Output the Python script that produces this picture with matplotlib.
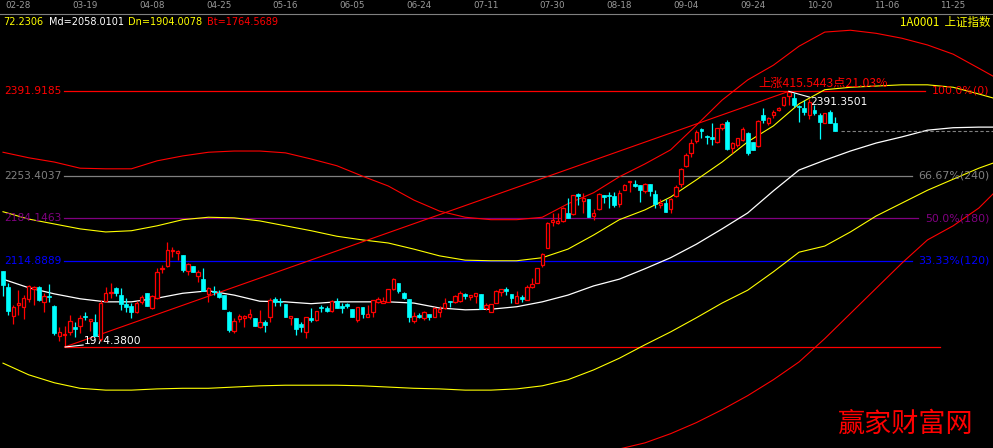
import matplotlib
matplotlib.use("Agg")
import matplotlib.pyplot as plt
from matplotlib.patches import Rectangle
from matplotlib.transforms import blended_transform_factory

# ---- candle data (daily OHLC, index 0 = first bar) ----
opens = [2098, 2072, 2025, 2043, 2040, 2053, 2069, 2072, 2048, 2058,
         2041, 1992, 1994, 1999, 2007, 2009, 2025, 2017, 2015, 1987,
         2049, 2062, 2071, 2059, 2044, 2041, 2031, 2048, 2062, 2038,
         2054, 2102, 2107, 2131, 2128, 2124, 2098, 2107, 2090, 2085,
         2061, 2066, 2063, 2059, 2031, 2000, 2020, 2022, 2023, 2022,
         2007, 2015, 2023, 2053, 2049, 2045, 2022, 2022, 2012, 1999,
         2022, 2018, 2040, 2038, 2033, 2049, 2041, 2045, 2036, 2018,
         2040, 2023, 2031, 2048, 2046, 2048, 2069, 2079, 2062, 2053,
         2017, 2027, 2022, 2028, 2023, 2031, 2038, 2049, 2048, 2049,
         2061, 2056, 2058, 2061, 2038, 2031, 2046, 2064, 2069, 2061,
         2046, 2056, 2051, 2072, 2079, 2108, 2136, 2178, 2177, 2180,
         2193, 2191, 2224, 2213, 2216, 2188, 2199, 2222, 2222, 2221,
         2208, 2230, 2244, 2240, 2239, 2229, 2240, 2224, 2206, 2209,
         2199, 2221, 2240, 2270, 2291, 2310, 2330, 2319, 2317, 2309,
         2332, 2341, 2299, 2304, 2312, 2323, 2309, 2302, 2353, 2340,
         2353, 2361, 2369, 2384, 2381, 2368, 2364, 2353, 2361, 2353,
         2340, 2357, 2340]
closes = [2076, 2033, 2040, 2046, 2054, 2074, 2072, 2051, 2058, 2056,
          1997, 1999, 1996, 2017, 2004, 2022, 2023, 2020, 1992, 2046,
          2062, 2064, 2062, 2044, 2040, 2031, 2046, 2056, 2041, 2058,
          2097, 2103, 2133, 2133, 2131, 2100, 2110, 2097, 2097, 2066,
          2071, 2064, 2056, 2036, 2002, 2017, 2025, 2025, 2028, 2009,
          2015, 2010, 2051, 2048, 2048, 2023, 2025, 2004, 2007, 2023,
          2018, 2033, 2038, 2033, 2049, 2038, 2038, 2041, 2023, 2040,
          2028, 2028, 2051, 2053, 2049, 2069, 2085, 2066, 2054, 2023,
          2025, 2023, 2031, 2023, 2038, 2036, 2046, 2048, 2058, 2062,
          2058, 2059, 2062, 2036, 2043, 2045, 2066, 2069, 2066, 2054,
          2058, 2053, 2072, 2077, 2103, 2126, 2177, 2182, 2180, 2201,
          2185, 2222, 2221, 2217, 2186, 2193, 2224, 2219, 2221, 2206,
          2226, 2239, 2245, 2237, 2230, 2240, 2229, 2208, 2209, 2195,
          2216, 2235, 2265, 2288, 2307, 2325, 2327, 2317, 2314, 2332,
          2338, 2297, 2307, 2315, 2330, 2291, 2296, 2343, 2345, 2348,
          2358, 2364, 2382, 2390, 2369, 2366, 2358, 2374, 2356, 2341,
          2356, 2340, 2327]
highs = [2098, 2079, 2043, 2067, 2059, 2076, 2074, 2074, 2062, 2077,
         2043, 2007, 2009, 2027, 2015, 2027, 2031, 2020, 2028, 2051,
         2072, 2079, 2072, 2071, 2054, 2046, 2049, 2059, 2062, 2059,
         2103, 2108, 2146, 2138, 2133, 2124, 2111, 2107, 2100, 2103,
         2072, 2074, 2067, 2059, 2033, 2022, 2028, 2027, 2036, 2022,
         2035, 2018, 2054, 2056, 2054, 2045, 2025, 2022, 2015, 2023,
         2038, 2033, 2043, 2041, 2051, 2054, 2046, 2046, 2036, 2040,
         2040, 2043, 2051, 2056, 2056, 2069, 2087, 2079, 2064, 2053,
         2031, 2030, 2033, 2028, 2040, 2041, 2054, 2049, 2059, 2066,
         2062, 2059, 2062, 2061, 2046, 2045, 2067, 2069, 2072, 2061,
         2066, 2059, 2076, 2087, 2103, 2128, 2178, 2193, 2193, 2203,
         2217, 2222, 2226, 2226, 2216, 2199, 2226, 2222, 2227, 2227,
         2230, 2240, 2245, 2247, 2239, 2242, 2240, 2230, 2216, 2216,
         2217, 2239, 2266, 2291, 2314, 2328, 2332, 2320, 2340, 2332,
         2340, 2345, 2309, 2315, 2333, 2325, 2309, 2345, 2364, 2350,
         2361, 2366, 2382, 2391.35, 2389, 2369, 2377, 2379, 2369, 2356,
         2356, 2361, 2349]
lows = [2058, 2027, 2012, 2027, 2020, 2048, 2043, 2049, 2031, 2048,
        1994, 1984, 1974.38, 1994, 1991, 1997, 2018, 2000, 1992, 1984,
        2048, 2054, 2058, 2035, 2031, 2022, 2030, 2044, 2041, 2036,
        2053, 2095, 2105, 2121, 2116, 2097, 2092, 2097, 2080, 2066,
        2048, 2059, 2054, 2036, 1999, 1997, 2015, 2007, 2020, 2009,
        2005, 1999, 2015, 2041, 2041, 2023, 2010, 1994, 1999, 1989,
        2015, 2017, 2031, 2031, 2031, 2038, 2030, 2038, 2023, 2015,
        2022, 2023, 2023, 2046, 2046, 2048, 2067, 2062, 2053, 2015,
        2013, 2022, 2018, 2018, 2023, 2023, 2036, 2040, 2046, 2048,
        2053, 2051, 2046, 2036, 2035, 2031, 2046, 2058, 2059, 2046,
        2046, 2048, 2051, 2070, 2079, 2105, 2136, 2172, 2175, 2178,
        2185, 2190, 2206, 2193, 2186, 2182, 2198, 2209, 2201, 2203,
        2203, 2230, 2227, 2235, 2211, 2226, 2221, 2201, 2201, 2195,
        2193, 2219, 2235, 2268, 2284, 2307, 2315, 2306, 2304, 2307,
        2328, 2296, 2291, 2301, 2310, 2288, 2296, 2301, 2340, 2337,
        2348, 2359, 2368, 2369, 2366, 2341, 2353, 2346, 2353, 2314,
        2340, 2340, 2327]

# ---- band lines, read every 5 bars (they run ahead of the last bar) ----
band_idx = list(range(0, 191, 5)) + [193]
mid_line = [2085, 2071, 2061, 2053, 2048, 2048, 2054, 2062, 2066, 2059,
            2049, 2048, 2045, 2048, 2048, 2048, 2046, 2038, 2035, 2036,
            2040, 2048, 2059, 2074, 2085, 2102, 2120, 2142, 2167, 2193,
            2229, 2263, 2279, 2294, 2307, 2317, 2328, 2332, 2333, 2333]
upper_red = [2292, 2283, 2276, 2266, 2265, 2265, 2278, 2286, 2292, 2294,
             2294, 2291, 2281, 2270, 2253, 2237, 2214, 2196, 2186, 2182,
             2182, 2186, 2208, 2226, 2252, 2273, 2296, 2336, 2377, 2410,
             2434, 2465, 2488, 2491, 2486, 2478, 2467, 2452, 2429, 2415]
upper_yellow = [2195, 2183, 2175, 2167, 2162, 2164, 2172, 2182, 2186, 2185,
                2180, 2172, 2164, 2155, 2149, 2144, 2134, 2123, 2116, 2115,
                2115, 2120, 2134, 2157, 2182, 2198, 2219, 2247, 2276, 2309,
                2335, 2371, 2394, 2398, 2400, 2402, 2402, 2398, 2387, 2380]
lower_yellow = [1948, 1929, 1916, 1907, 1904, 1904, 1906, 1907, 1907, 1909,
                1911, 1912, 1912, 1912, 1911, 1909, 1907, 1906, 1904, 1904,
                1906, 1911, 1921, 1937, 1956, 1978, 1999, 2022, 2046, 2067,
                2097, 2129, 2139, 2162, 2188, 2209, 2230, 2248, 2266, 2275]
lower_red_idx = list(range(115, 191, 5)) + [193]
lower_red = [1800, 1808, 1818, 1833, 1851, 1872, 1895, 1921, 1950, 1988,
             2029, 2070, 2111, 2149, 2172, 2201, 2226]

# ---- golden section levels ----
fib_levels = [2391.9185, 2253.4037, 2184.1463, 2114.8889]
fib_labels = ["100.0%(0)", "66.67%(240)", "50.0%(180)", "33.33%(120)"]
fib_colors = ["#ff0000", "#808080", "#800080", "#0000ff"]
fib_end = [179.5, 177.0, 178.2, 177.0]
low_price, low_idx, low_text = 1974.38, 12, "1974.3800"
high_price, high_idx, high_text = 2391.35, 153, "2391.3501"
rise_text = "上涨415.5443点21.03%"

date_labels = ["02-28", "03-19", "04-08", "04-25", "05-16", "06-05", "06-24",
               "07-11", "07-30", "08-18", "09-04", "09-24", "10-20", "11-06", "11-25"]
date_idx = [3 + 13 * k for k in range(len(date_labels))]

RED, CYAN, YEL = "#ff0000", "#00ffff", "#ffff00"
CJK = ["Noto Sans CJK SC", "DejaVu Sans"]

fig = plt.figure(figsize=(9.93, 4.48), dpi=100, facecolor="black")
ax = fig.add_axes([0, 0, 1, 1])
ax.set_facecolor("black")
ax.set_xlim(-0.584, 192.76)
ax.set_ylim(1809.6, 2540.34)
ax.axis("off")

# bands
ax.plot(band_idx, upper_red, color=RED, lw=0.8, zorder=2)
ax.plot(band_idx, upper_yellow, color=YEL, lw=0.8, zorder=2)
ax.plot(band_idx, mid_line, color="white", lw=0.9, zorder=2)
ax.plot(band_idx, lower_yellow, color=YEL, lw=0.8, zorder=2)
ax.plot(lower_red_idx, lower_red, color=RED, lw=0.8, zorder=2)

# golden section lines and labels
for lvl, lab, col, end in zip(fib_levels, fib_labels, fib_colors, fib_end):
    ax.plot([11.9, end], [lvl, lvl], color=col, lw=0.9, zorder=1)
    ax.text(0.2, lvl, f"{lvl:.4f}", color=col, fontsize=7.7, va="center", ha="left")
    ax.text(192.0, lvl, lab, color=col, fontsize=7.9, va="center", ha="right")
ax.plot([low_idx, 182.4], [low_price, low_price], color=RED, lw=0.9, zorder=1)

# trend line from low to high
ax.plot([low_idx, high_idx], [low_price, high_price], color=RED, lw=0.8, zorder=2)
ax.text(147, 2405, rise_text, color=RED, fontsize=8.8,
        family=CJK, va="center", ha="left")
ax.plot([low_idx + 0.1, 15.6], [low_price, 1977.6], color="white", lw=0.8, zorder=5)
ax.text(15.8, 1984.2, low_text, color="white", fontsize=7.7, va="center", ha="left")
ax.plot([high_idx, 157.0], [high_price, 2382], color="white", lw=0.8, zorder=5)
ax.text(157.1, 2373.6, high_text, color="white", fontsize=7.7, va="center", ha="left")

# candles
for i, (o, c, h, l) in enumerate(zip(opens, closes, highs, lows)):
    if c >= o:
        ax.vlines(i, l, h, color=RED, lw=0.9, zorder=3)
        ax.add_patch(Rectangle((i - 0.34, o), 0.68, max(c - o, 1.6), facecolor="black",
                               edgecolor=RED, lw=0.9, zorder=4))
    else:
        ax.vlines(i, l, h, color=CYAN, lw=0.9, zorder=3)
        ax.add_patch(Rectangle((i - 0.38, c), 0.76, max(o - c, 1.6), facecolor=CYAN,
                               edgecolor=CYAN, lw=0.5, zorder=4))

# last close dashed
ax.plot([len(closes) + 0.2, 192.8], [closes[-1], closes[-1]], color="#808080",
        lw=0.8, ls=(0, (3, 2)), zorder=2)

# header strip
trans = blended_transform_factory(ax.transData, ax.transAxes)
for d, lab in zip(date_idx, date_labels):
    ax.text(d, 1 - 5 / 448, lab, color="#9a9a9a", fontsize=6.3, ha="center",
            va="center", transform=trans)
ax.plot([0, 1], [1 - 14 / 448] * 2, color="#808080", lw=0.8, transform=ax.transAxes)

yi = 1 - 22 / 448
fig.text(3 / 993, yi, "72.2306", color=YEL, fontsize=7, va="center")
fig.text(49 / 993, yi, "Md=2058.0101", color="white", fontsize=7, va="center")
fig.text(128 / 993, yi, "Dn=1904.0078", color=YEL, fontsize=7, va="center")
fig.text(207 / 993, yi, "Bt=1764.5689", color=RED, fontsize=7, va="center")
fig.text(990 / 993, yi, "1A0001  上证指数", color=YEL, fontsize=8.3, family=CJK,
         va="center", ha="right")

# watermark
fig.text(838 / 993, 1 - 424 / 448, "赢家财富网", color=RED, fontsize=19.5,
         family=CJK, fontweight="light", va="center", ha="left")

plt.savefig("out.png", dpi=100, facecolor="black")
